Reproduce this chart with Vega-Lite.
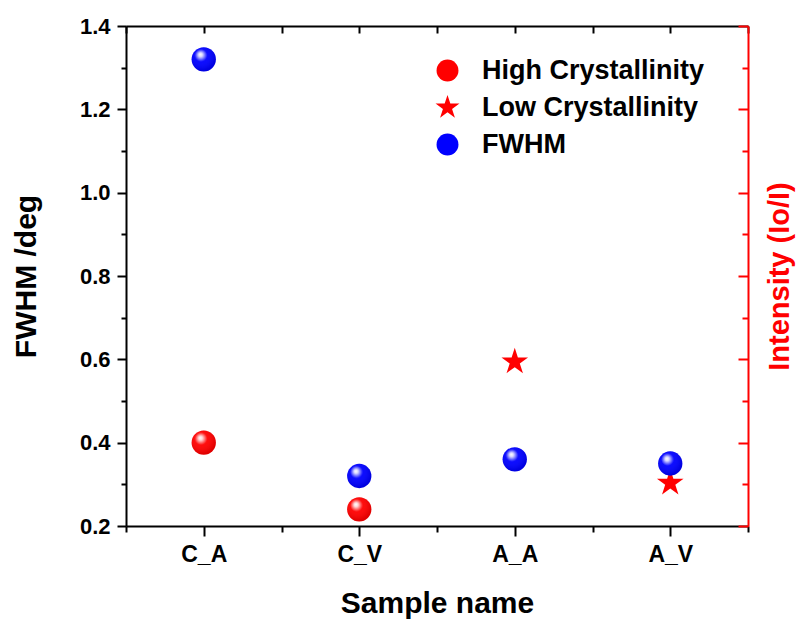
{
  "$schema": "https://vega.github.io/schema/vega-lite/v6.json",
  "width": 622,
  "height": 500,
  "autosize": {"type": "none"},
  "padding": {"left": 126, "top": 26, "right": 53, "bottom": 93},
  "background": "white",
  "config": {
    "view": {"stroke": null},
    "font": "Liberation Sans",
    "axis": {"grid": false, "labelFontWeight": "bold", "titleFontWeight": "bold", "labelOverlap": false, "labelFlush": false}
  },
  "datasets": {
    "samples": [
      {"sample": "C_A", "order": 1},
      {"sample": "C_V", "order": 2},
      {"sample": "A_A", "order": 3},
      {"sample": "A_V", "order": 4}
    ]
  },
  "data": {
    "values": [
      {"sample": "A_A", "series": "Low Crystallinity", "value": 0.594},
      {"sample": "A_V", "series": "Low Crystallinity", "value": 0.303},
      {"sample": "C_A", "series": "High Crystallinity", "value": 0.40},
      {"sample": "C_V", "series": "High Crystallinity", "value": 0.24},
      {"sample": "C_A", "series": "FWHM", "value": 1.32},
      {"sample": "C_V", "series": "FWHM", "value": 0.32},
      {"sample": "A_A", "series": "FWHM", "value": 0.36},
      {"sample": "A_V", "series": "FWHM", "value": 0.35}
    ]
  },
  "transform": [
    {"lookup": "sample", "from": {"data": {"name": "samples"}, "key": "sample", "fields": ["order"]}}
  ],
  "layer": [
    {
      "mark": {"type": "point", "filled": true, "opacity": 0},
      "encoding": {
        "x": {
          "field": "order", "type": "quantitative",
          "axis": {
            "orient": "bottom", "values": [0.5, 1.5, 2.5, 3.5, 4.5],
            "labels": false, "title": null, "domain": false,
            "tickColor": "black", "tickWidth": 2, "tickSize": 6
          }
        },
        "y": {
          "field": "value", "type": "quantitative",
          "axis": {
            "orient": "left", "values": [0.3, 0.5, 0.7, 0.9, 1.1, 1.3],
            "labels": false, "title": null, "domain": false,
            "tickColor": "black", "tickWidth": 2, "tickSize": 5
          }
        }
      }
    },
    {
      "mark": {"type": "point", "filled": true, "opacity": 0},
      "encoding": {
        "x": {
          "field": "order", "type": "quantitative",
          "axis": {
            "orient": "top", "values": [0.5, 1, 1.5, 2, 2.5, 3, 3.5, 4, 4.5],
            "labels": false, "title": null,
            "domainColor": "black", "domainWidth": 2,
            "tickColor": "black", "tickWidth": 2, "tickSize": -7
          }
        },
        "y": {
          "field": "value", "type": "quantitative",
          "axis": {
            "orient": "right", "values": [0.3, 0.5, 0.7, 0.9, 1.1, 1.3],
            "labels": false, "title": null, "domain": false,
            "tickColor": "#ff0000", "tickWidth": 2, "tickSize": -6
          }
        }
      }
    },
    {
      "mark": {"type": "point", "filled": true, "opacity": 1, "size": 590},
      "encoding": {
        "x": {
          "field": "order", "type": "quantitative",
          "scale": {"domain": [0.5, 4.5], "nice": false, "zero": false},
          "axis": {
            "orient": "bottom",
            "values": [1, 2, 3, 4],
            "labelExpr": "['C_A','C_V','A_A','A_V'][datum.value - 1]",
            "title": "Sample name",
            "domainColor": "black", "domainWidth": 2,
            "tickColor": "black", "tickWidth": 2, "tickSize": 10,
            "labelFontSize": 23, "labelColor": "black", "labelPadding": 7,
            "titleFontSize": 30, "titleColor": "black", "titlePadding": 22
          }
        },
        "y": {
          "field": "value", "type": "quantitative",
          "scale": {"domain": [0.2, 1.4], "nice": false, "zero": false},
          "axis": {
            "orient": "left",
            "values": [0.2, 0.4, 0.6, 0.8, 1.0, 1.2, 1.4],
            "format": ".1f",
            "title": "FWHM /deg",
            "domainColor": "black", "domainWidth": 2,
            "tickColor": "black", "tickWidth": 2, "tickSize": 9,
            "labelFontSize": 22, "labelColor": "black", "labelPadding": 7,
            "titleFontSize": 30, "titleColor": "black", "titlePadding": 38
          }
        },
        "color": {
          "field": "series", "type": "nominal",
          "scale": {"domain": ["High Crystallinity", "Low Crystallinity", "FWHM"], "range": ["#ff0000", "#ff0000", "#0000ff"]},
          "legend": {
            "orient": "none", "legendX": 308, "legendY": 31,
            "title": null, "padding": 0,
            "labelFontSize": 27, "labelFontWeight": "bold", "labelColor": "black", "labelLimit": 500,
            "labelOffset": 21, "rowPadding": 9, "symbolSize": 480, "symbolStrokeWidth": 0
          }
        },
        "shape": {
          "field": "series", "type": "nominal",
          "scale": {
            "domain": ["High Crystallinity", "Low Crystallinity", "FWHM"],
            "range": ["circle", "M0,-1.15L0.258,-0.355L1.094,-0.355L0.417,0.136L0.676,0.930L0,0.439L-0.676,0.930L-0.417,0.136L-1.094,-0.355L-0.258,-0.355Z", "circle"]
          }
        }
      }
    },
    {
      "transform": [{"filter": "datum.series !== 'Low Crystallinity'"}],
      "mark": {
        "type": "point", "filled": true, "shape": "circle", "size": 590, "opacity": 1,
        "fill": {
          "gradient": "radial", "x1": 0.36, "y1": 0.3, "r1": 0, "x2": 0.42, "y2": 0.38, "r2": 0.58,
          "stops": [
            {"offset": 0, "color": "rgba(255,255,255,1)"},
            {"offset": 0.14, "color": "rgba(255,255,255,0.85)"},
            {"offset": 0.45, "color": "rgba(255,255,255,0.05)"},
            {"offset": 1, "color": "rgba(0,0,0,0.12)"}
          ]
        }
      },
      "encoding": {
        "x": {"field": "order", "type": "quantitative", "axis": null},
        "y": {
          "field": "value", "type": "quantitative",
          "axis": {
            "orient": "right",
            "values": [0.2, 0.4, 0.6, 0.8, 1.0, 1.2, 1.4],
            "labels": false,
            "title": "Intensity (Io/I)",
            "domainColor": "#ff0000", "domainWidth": 2,
            "tickColor": "#ff0000", "tickWidth": 2, "tickSize": -10,
            "titleFontSize": 29, "titleColor": "#ff0000", "titleAngle": 270, "titleBaseline": "top", "titlePadding": 16
          }
        }
      }
    }
  ],
  "resolve": {"axis": {"x": "independent", "y": "independent"}}
}
